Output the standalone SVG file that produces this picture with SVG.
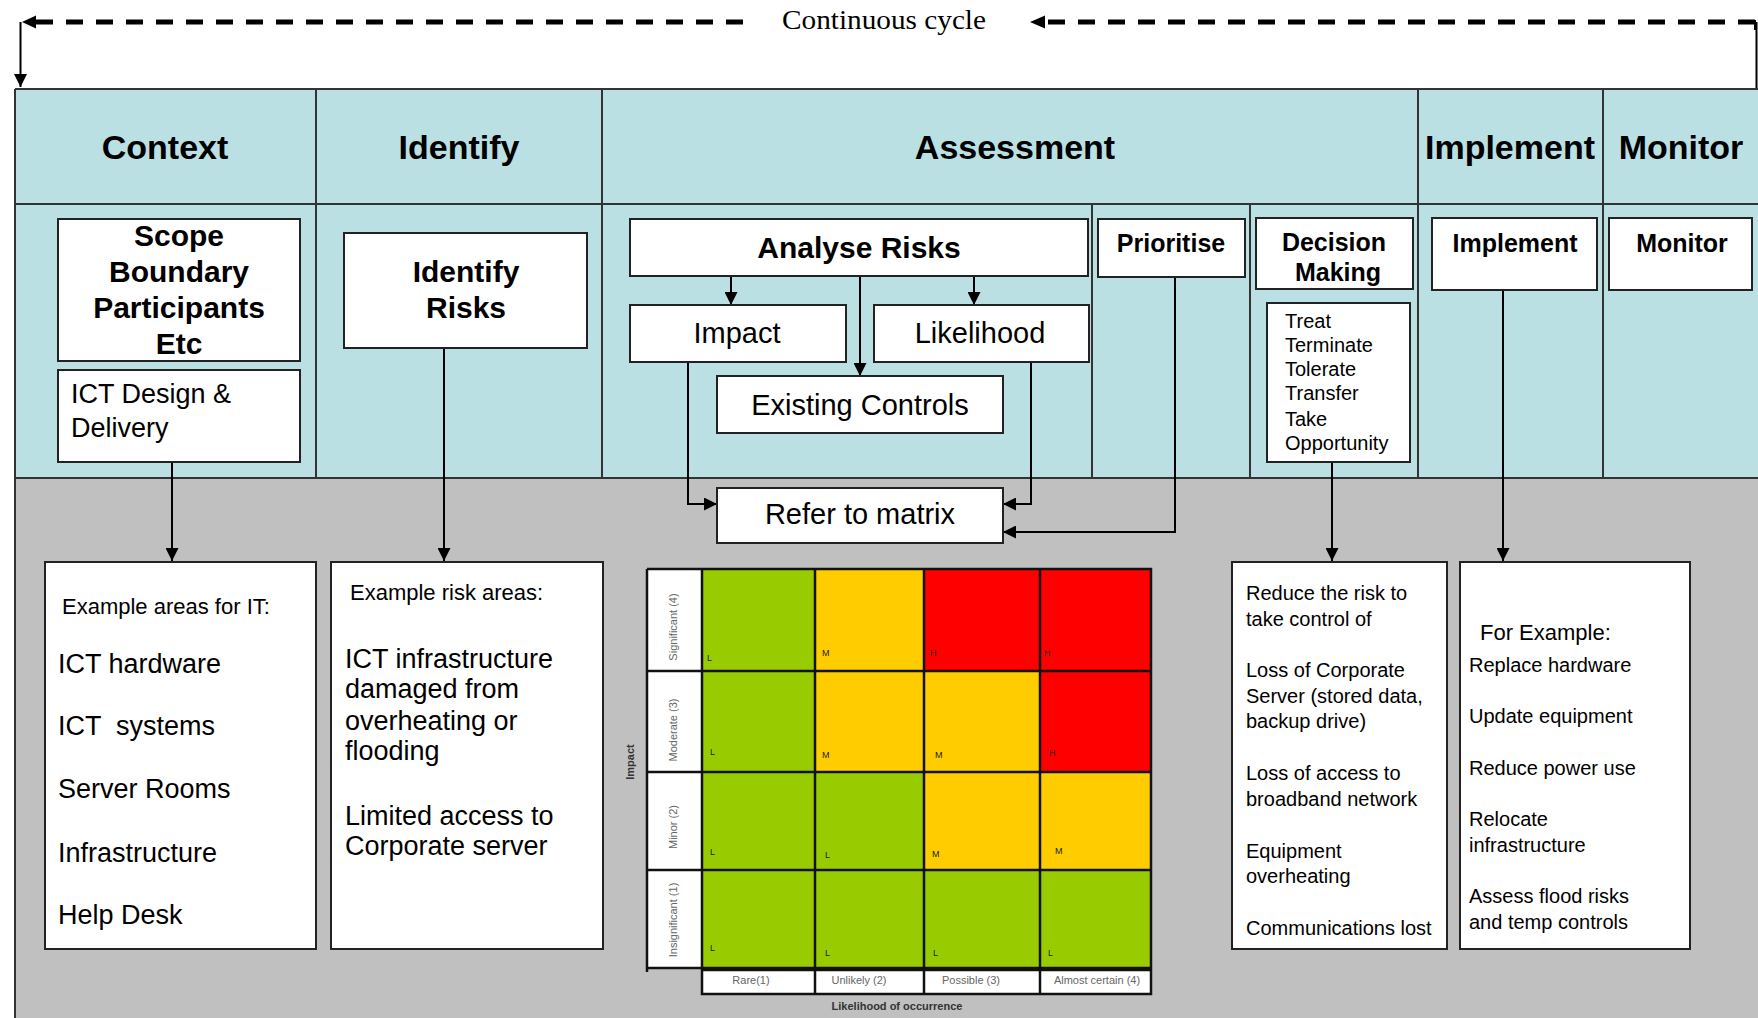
<svg xmlns="http://www.w3.org/2000/svg" width="1758" height="1018" viewBox="0 0 1758 1018">
<defs>
<style>
.band{fill:#BBE0E3}
.gray{fill:#C0C0C0}
.bl{stroke:#333;stroke-width:2;fill:none}
.box{fill:#fff;stroke:#222;stroke-width:2}
.t{font-family:"Liberation Sans",Arial,sans-serif;fill:#000}
.hd{font-size:34px;font-weight:bold;text-anchor:middle}
.bb{font-size:30px;font-weight:bold;text-anchor:middle}
.bs{font-size:25px;font-weight:bold;text-anchor:middle}
.r29{font-size:29px;text-anchor:middle}
.r27{font-size:27px}
.r22{font-size:22px}
.r20{font-size:20px}
.conn{stroke:#000;stroke-width:2;fill:none}
.dash{stroke:#000;stroke-width:5;fill:none;stroke-dasharray:17 13}
.cg{fill:#99CC00}
.co{fill:#FFCC00}
.cr{fill:#FF0000}
.grid{stroke:#111;stroke-width:2.5;fill:none}
.lt{font-size:9px;fill:#222}
.ml{font-size:11px;fill:#666;text-anchor:middle}
.mb{font-size:11px;font-weight:bold;fill:#333;text-anchor:middle}
</style>
<marker id="ah" markerUnits="userSpaceOnUse" viewBox="0 0 13 13" refX="13" refY="6.5" markerWidth="13" markerHeight="13" orient="auto">
<path d="M0,0 L13,6.5 L0,13 z" fill="#000"/>
</marker>
</defs>
<rect width="1758" height="1018" fill="#fff"/>

<g id="panel">
<rect class="band" x="15" y="89" width="1745" height="389"/>
<rect class="gray" x="15" y="478" width="1745" height="542"/>
<path class="bl" d="M15,89 H1760 M15,204 H1760 M15,478 H1760 M15,89 V1018"/>
<path class="bl" d="M316,89 V478 M602,89 V478 M1418,89 V478 M1603,89 V478 M1092,204 V478 M1250,204 V478"/>
</g>

<g id="headers" class="t">
<text class="t hd" x="165" y="159">Context</text>
<text class="t hd" x="459" y="159">Identify</text>
<text class="t hd" x="1015" y="159">Assessment</text>
<text class="t hd" x="1510" y="159">Implement</text>
<text class="t hd" x="1681" y="159">Monitor</text>
</g>

<g id="cycle">
<path class="dash" d="M1755,22 H1040"/>
<path class="dash" d="M743,22 H34"/>
<path d="M1030,22 L1045,15.5 L1045,28.5 z" fill="#000"/>
<path d="M22,22 L36,15.5 L36,28.5 z" fill="#000"/>
<path class="conn" d="M1755,20 V30" stroke-width="3"/>
<path class="conn" d="M1756.5,22 V88" stroke-width="1.5"/>
<text class="t" x="884" y="29" font-family="'Liberation Serif','Times New Roman',serif" font-size="27" text-anchor="middle" textLength="204" lengthAdjust="spacingAndGlyphs" style="font-family:'Liberation Serif','Times New Roman',serif">Continuous cycle</text>
</g>

<g id="connectors">
<path class="conn" d="M20.5,22 V87" stroke-width="1.8" marker-end="url(#ah)"/>
<path class="conn" d="M172,462 V561" marker-end="url(#ah)"/>
<path class="conn" d="M444,348 V561" marker-end="url(#ah)"/>
<path class="conn" d="M731,276 V305" marker-end="url(#ah)"/>
<path class="conn" d="M860,276 V376" marker-end="url(#ah)"/>
<path class="conn" d="M974,276 V305" marker-end="url(#ah)"/>
<path class="conn" d="M688,362 V504 H717" marker-end="url(#ah)"/>
<path class="conn" d="M1031,362 V504 H1003" marker-end="url(#ah)"/>
<path class="conn" d="M1175,277 V532 H1003" marker-end="url(#ah)"/>
<path class="conn" d="M1332,462 V561" marker-end="url(#ah)"/>
<path class="conn" d="M1503,290 V561" marker-end="url(#ah)"/>
</g>

<g id="scope">
<rect class="box" x="58" y="219" width="242" height="142"/>
<text class="t bb" x="179" y="246">Scope</text>
<text class="t bb" x="179" y="282">Boundary</text>
<text class="t bb" x="179" y="318">Participants</text>
<text class="t bb" x="179" y="354">Etc</text>
</g>

<g id="ict-design">
<rect class="box" x="58" y="370" width="242" height="92"/>
<text class="t r27" x="71" y="403">ICT Design &amp;</text>
<text class="t r27" x="71" y="437">Delivery</text>
</g>

<g id="identify-risks">
<rect class="box" x="344" y="233" width="243" height="115"/>
<text class="t bb" x="466" y="282">Identify</text>
<text class="t bb" x="466" y="318">Risks</text>
</g>

<g id="analyse-risks">
<rect class="box" x="630" y="219" width="458" height="57"/>
<text class="t bb" x="859" y="258">Analyse Risks</text>
</g>

<g id="impact">
<rect class="box" x="630" y="305" width="216" height="57"/>
<text class="t r29" x="737" y="343">Impact</text>
</g>

<g id="likelihood">
<rect class="box" x="874" y="305" width="215" height="57"/>
<text class="t r29" x="980" y="343">Likelihood</text>
</g>

<g id="existing-controls">
<rect class="box" x="717" y="376" width="286" height="57"/>
<text class="t r29" x="860" y="415">Existing Controls</text>
</g>

<g id="refer-to-matrix">
<rect class="box" x="717" y="488" width="286" height="55"/>
<text class="t r29" x="860" y="524">Refer to matrix</text>
</g>

<g id="prioritise">
<rect class="box" x="1098" y="219" width="147" height="58"/>
<text class="t bs" x="1171" y="252">Prioritise</text>
</g>

<g id="decision-making">
<rect class="box" x="1256" y="218" width="157" height="71"/>
<text class="t bs" x="1334" y="251">Decision</text>
<text class="t bs" x="1338" y="281">Making</text>
</g>

<g id="treat">
<rect class="box" x="1267" y="303" width="143" height="159"/>
<text class="t r20" x="1285" y="328">Treat</text>
<text class="t r20" x="1285" y="352">Terminate</text>
<text class="t r20" x="1285" y="376">Tolerate</text>
<text class="t r20" x="1285" y="400">Transfer</text>
<text class="t r20" x="1285" y="426">Take</text>
<text class="t r20" x="1285" y="450">Opportunity</text>
</g>

<g id="implement">
<rect class="box" x="1432" y="218" width="165" height="72"/>
<text class="t bs" x="1515" y="252">Implement</text>
</g>

<g id="monitor">
<rect class="box" x="1609" y="218" width="143" height="72"/>
<text class="t bs" x="1682" y="252">Monitor</text>
</g>

<g id="example-it">
<rect class="box" x="45" y="562" width="271" height="387"/>
<text class="t r22" x="62" y="614">Example areas for IT:</text>
<text class="t r27" x="58" y="673">ICT hardware</text>
<text class="t r27" x="58" y="735" xml:space="preserve">ICT  systems</text>
<text class="t r27" x="58" y="798">Server Rooms</text>
<text class="t r27" x="58" y="862">Infrastructure</text>
<text class="t r27" x="58" y="924">Help Desk</text>
</g>

<g id="example-risk">
<rect class="box" x="331" y="562" width="272" height="387"/>
<text class="t r22" x="350" y="600">Example risk areas:</text>
<text class="t r27" x="345" y="668">ICT infrastructure</text>
<text class="t r27" x="345" y="698">damaged from</text>
<text class="t r27" x="345" y="730">overheating or</text>
<text class="t r27" x="345" y="760">flooding</text>
<text class="t r27" x="345" y="825">Limited access to</text>
<text class="t r27" x="345" y="855">Corporate server</text>
</g>

<g id="matrix">
<rect x="647" y="569" width="55" height="399" fill="#fff"/>
<rect x="702" y="970" width="449" height="24" fill="#fff"/>
<rect class="cg" x="702" y="569" width="113" height="102"/>
<rect class="co" x="815" y="569" width="109" height="102"/>
<rect class="cr" x="924" y="569" width="116" height="102"/>
<rect class="cr" x="1040" y="569" width="111" height="102"/>
<rect class="cg" x="702" y="671" width="113" height="101"/>
<rect class="co" x="815" y="671" width="109" height="101"/>
<rect class="co" x="924" y="671" width="116" height="101"/>
<rect class="cr" x="1040" y="671" width="111" height="101"/>
<rect class="cg" x="702" y="772" width="113" height="98"/>
<rect class="cg" x="815" y="772" width="109" height="98"/>
<rect class="co" x="924" y="772" width="116" height="98"/>
<rect class="co" x="1040" y="772" width="111" height="98"/>
<rect class="cg" x="702" y="870" width="113" height="98"/>
<rect class="cg" x="815" y="870" width="109" height="98"/>
<rect class="cg" x="924" y="870" width="116" height="98"/>
<rect class="cg" x="1040" y="870" width="111" height="98"/>
<path class="grid" d="M647,569 H1151 V994 H702 V569 M647,569 V972 M647,671 H1151 M647,772 H1151 M647,870 H1151 M647,968 H1151 M815,569 V994 M924,569 V994 M1040,569 V994 M702,970 H1151"/>
<g class="t">
<text class="t lt" x="707" y="661">L</text>
<text class="t lt" x="822" y="656">M</text>
<text class="t lt" x="930" y="656">H</text>
<text class="t lt" x="1044" y="656">H</text>
<text class="t lt" x="710" y="755">L</text>
<text class="t lt" x="822" y="758">M</text>
<text class="t lt" x="935" y="758">M</text>
<text class="t lt" x="1049" y="756">H</text>
<text class="t lt" x="710" y="855">L</text>
<text class="t lt" x="825" y="858">L</text>
<text class="t lt" x="932" y="857">M</text>
<text class="t lt" x="1055" y="854">M</text>
<text class="t lt" x="710" y="951">L</text>
<text class="t lt" x="825" y="956">L</text>
<text class="t lt" x="933" y="956">L</text>
<text class="t lt" x="1048" y="956">L</text>
<text class="t ml" transform="translate(677,627) rotate(-90)">Significant (4)</text>
<text class="t ml" transform="translate(677,730) rotate(-90)">Moderate (3)</text>
<text class="t ml" transform="translate(677,827) rotate(-90)">Minor (2)</text>
<text class="t ml" transform="translate(677,920) rotate(-90)">Insignificant (1)</text>
<text class="t ml" x="751" y="984">Rare(1)</text>
<text class="t ml" x="859" y="984">Unlikely (2)</text>
<text class="t ml" x="971" y="984">Possible (3)</text>
<text class="t ml" x="1097" y="984">Almost certain (4)</text>
<text class="t mb" x="897" y="1010">Likelihood of occurrence</text>
<text class="t mb" font-size="10" transform="translate(634,762) rotate(-90)">Impact</text>
</g>
</g>

<g id="reduce-risk">
<rect class="box" x="1232" y="562" width="215" height="387"/>
<text class="t r20" x="1246" y="600">Reduce the risk to</text>
<text class="t r20" x="1246" y="626">take control of</text>
<text class="t r20" x="1246" y="677">Loss of Corporate</text>
<text class="t r20" x="1246" y="703">Server (stored data,</text>
<text class="t r20" x="1246" y="728">backup drive)</text>
<text class="t r20" x="1246" y="780">Loss of access to</text>
<text class="t r20" x="1246" y="806">broadband network</text>
<text class="t r20" x="1246" y="858">Equipment</text>
<text class="t r20" x="1246" y="883">overheating</text>
<text class="t r20" x="1246" y="935" font-size="19.5">Communications lost</text>
</g>

<g id="for-example">
<rect class="box" x="1460" y="562" width="230" height="387"/>
<text class="t r22" x="1480" y="640">For Example:</text>
<text class="t r20" x="1469" y="672">Replace hardware</text>
<text class="t r20" x="1469" y="723">Update equipment</text>
<text class="t r20" x="1469" y="775">Reduce power use</text>
<text class="t r20" x="1469" y="826">Relocate</text>
<text class="t r20" x="1469" y="852">infrastructure</text>
<text class="t r20" x="1469" y="903">Assess flood risks</text>
<text class="t r20" x="1469" y="929">and temp controls</text>
</g>
</svg>
